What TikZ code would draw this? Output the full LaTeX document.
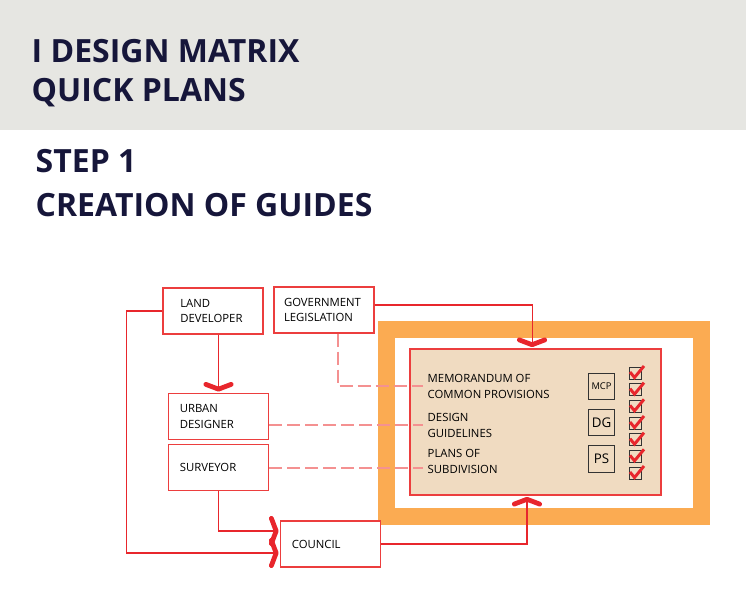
\documentclass[tikz,border=0pt]{standalone}
\usepackage{fontspec}
\setmainfont{Open Sans}
\usepackage{tikz}
\usetikzlibrary{arrows.meta,positioning,calc}
\definecolor{linered}{RGB}{232,38,44}
\definecolor{boxred}{RGB}{236,62,62}
\definecolor{dashpink}{RGB}{244,145,145}
\definecolor{bandorange}{RGB}{251,171,82}
\definecolor{paper}{RGB}{240,219,193}
\definecolor{headgray}{RGB}{230,230,226}
\definecolor{navy}{RGB}{22,22,58}
\tikzset{
  chev/.tip={Straight Barb[length=3.6pt,width=19pt,line width=3.6pt,round=false]},
  actor/.style={rectangle,draw=boxred,line width=0.9pt,fill=white,
                minimum width=75pt,minimum height=34.5pt,
                inner xsep=#1,text width=75pt-2*#1,align=left,
                font=\fontsize{8.5}{11.5}\selectfont},
  actor/.default=8.5pt,
  link/.style={-chev,linered,line width=0.8pt,shorten >=1pt},
  dashlink/.style={dashpink,line width=1.5pt,dash pattern=on 9.75pt off 3.75pt},
  heading/.style={anchor=base west,navy,font=\fontsize{24}{29}\selectfont\bfseries},
}

\begin{document}
\begin{tikzpicture}[x=0.75pt,y=-0.75pt,
    doc/.style={anchor=west,align=left,font=\fontsize{8.5}{12}\selectfont},
    code/.style={rectangle,draw=black!80,line width=0.6pt,minimum size=20pt,inner sep=0pt},
    chkbox/.style={draw=black!80,line width=0.6pt},
    tick/.style={linered,line width=2.2pt,line join=miter},
  ]
  \useasboundingbox (0,0) rectangle (746,603);

  % title band
  \fill[headgray] (0,0) rectangle (746,130);
  \node[heading] (t1) at (27,62)  {I DESIGN MATRIX};
  \node[heading] (t2) at (27,101) {QUICK PLANS};
  \node[heading] (t3) at (31,172) {STEP 1};
  \node[heading] (t4) at (31,216) {CREATION OF GUIDES};

  % guide set
  \draw[bandorange,line width=12.75pt] (386,329) rectangle (701,516.5);
  \node[rectangle,draw=boxred,line width=0.8pt,fill=paper,
        minimum width=188.25pt,minimum height=109.5pt] (sheet) at (535.5,422) {};
  \node[doc] (memo)  at (423,386) {MEMORANDUM OF\\COMMON PROVISIONS};
  \node[doc] (guide) at (423,425) {DESIGN\\GUIDELINES};
  \node[doc] (plans) at (423,461) {PLANS OF\\SUBDIVISION};
  \node[code,font=\fontsize{7}{8}\selectfont] (mcp) at (601.5,386.5) {MCP};
  \node[code,font=\fontsize{10}{12}\selectfont] (dg) at (601.5,422.5) {DG};
  \node[code,font=\fontsize{10}{12}\selectfont] (ps) at (601.5,459) {PS};
  \foreach \i in {0,...,6}{
    \draw[chkbox] (629,367+16.67*\i) rectangle ++(12,12);
    \draw[tick] (630,372+16.67*\i) -- (634.5,377.5+16.67*\i) -- (644,366+16.67*\i);
  }

  % actors
  \node[actor=13pt] (ld) at (213,311)     {LAND\\DEVELOPER};
  \node[actor=7.5pt] (gov) at (324,310)   {GOVERNMENT\\LEGISLATION};
  \node[actor] (ud) at (218.5,416.5)      {URBAN\\DESIGNER};
  \node[actor] (sv) at (218.5,467.5)      {SURVEYOR};
  \node[actor] (council) at (330.5,544)   {COUNCIL};

  % links
  \draw[link] (ld.south -| ud.north) -- (ud.north);
  \draw[link] (ld.west) -- ++(-36,0) |- ([yshift=-6.75pt]council.west);
  \draw[link] (sv.south) |- ([yshift=9.75pt]council.west);
  \draw[link] (council.east) -| ([xshift=-6.4pt]sheet.south);
  \draw[link] ([yshift=3.75pt]gov.east) -| ([xshift=-2.6pt]sheet.north);

  \draw[dashlink] ([xshift=10.5pt]gov.south) |- (memo.west);
  \draw[dashlink] (ud.east |- guide.west) -- (guide.west);
  \draw[dashlink] (sv.east) -- (sv.east -| plans.west);
\end{tikzpicture}
\end{document}
